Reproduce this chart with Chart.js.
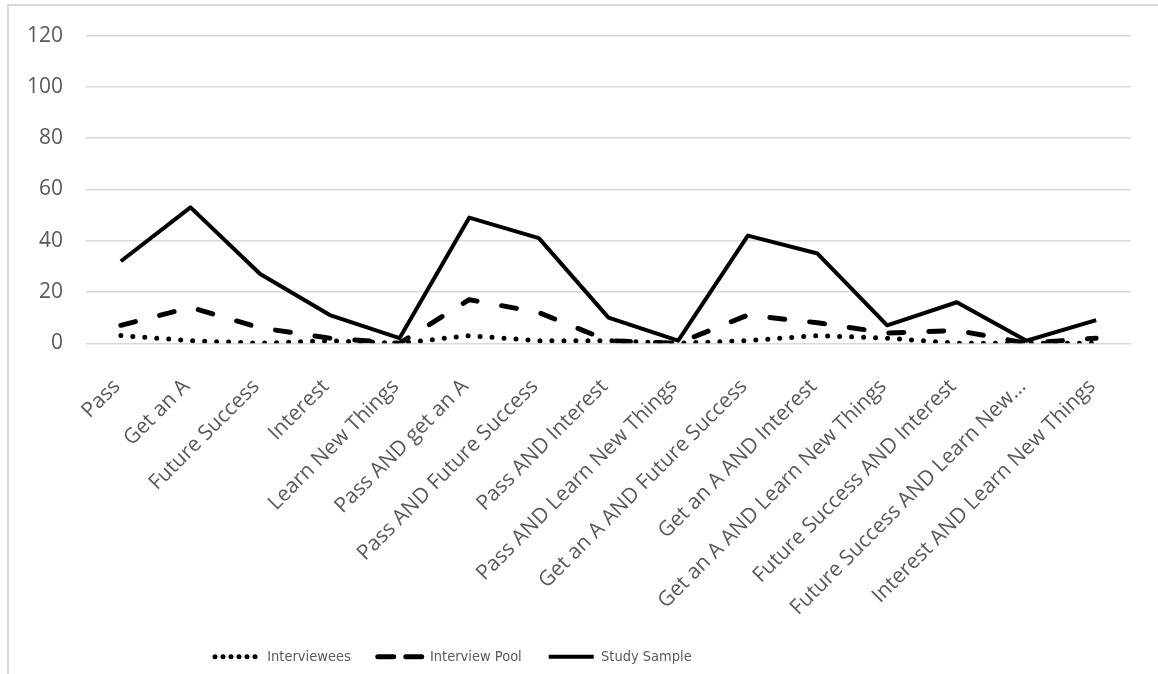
<!DOCTYPE html>
<html>
<head>
<meta charset="utf-8">
<script src="https://cdn.jsdelivr.net/npm/chart.js@4"></script>
<style>
  html, body { margin: 0; padding: 0; background: #ffffff; }
  #frame {
    position: absolute; left: 7px; top: 4px; right: -10px; bottom: -10px;
    border-top: 2px solid #d9d9d9; border-left: 2px solid #d9d9d9;
  }
  #wrap { position: absolute; left: 0; top: 0; width: 1158px; height: 674px; }
</style>
</head>
<body>
<div id="frame"></div>
<div id="wrap"><canvas id="chart" width="1158" height="674"></canvas></div>
<script>
// Categories of stated course goals
const categories = [
  'Pass', 'Get an A', 'Future Success', 'Interest', 'Learn New Things',
  'Pass AND get an A', 'Pass AND Future Success', 'Pass AND Interest',
  'Pass AND Learn New Things', 'Get an A AND Future Success',
  'Get an A AND Interest', 'Get an A AND Learn New Things',
  'Future Success AND Interest', 'Future Success AND Learn New Things',
  'Interest AND Learn New Things'
];

// Counts per group
const interviewees  = [3, 1, 0, 1, 0, 3, 1, 1, 0, 1, 3, 2, 0, 0, 0];
const interviewPool = [7, 14, 6, 2, 0, 17, 12, 1, 0, 11, 8, 4, 5, 0, 2];
const studySample   = [32, 53, 27, 11, 2, 49, 41, 10, 1, 42, 35, 7, 16, 1, 9];

// Y axis ticks
const yTicks = [0, 20, 40, 60, 80, 100, 120];

const textColor = '#595959';
const gridColor = '#d9d9d9';
const labelFont = { family: '"Open Sans", sans-serif', size: 21 };

// Long category names are cut short with an ellipsis
function shortLabel(s) {
  return s.length > 30 ? s.slice(0, 28).trimEnd() + '\u2026' : s;
}

// Moves the legend row to its own left offset
const legendOffset = {
  id: 'legendOffset',
  afterLayout(chart) {
    const lg = chart.legend;
    if (!lg) return;
    const w = lg.right - lg.left;
    lg.left = 188;
    lg.right = lg.left + w;
  }
};

new Chart(document.getElementById('chart'), {
  type: 'line',
  data: {
    labels: categories,
    datasets: [
      {
        label: 'Interviewees',
        data: interviewees,
        borderColor: '#000000',
        backgroundColor: '#000000',
        borderWidth: 5,
        borderDash: [0, 12],
        borderCapStyle: 'round',
        borderJoinStyle: 'round',
        pointRadius: 0,
        tension: 0
      },
      {
        label: 'Interview Pool',
        data: interviewPool,
        borderColor: '#000000',
        backgroundColor: '#000000',
        borderWidth: 5,
        borderDash: [15, 25],
        borderCapStyle: 'round',
        borderJoinStyle: 'round',
        pointRadius: 0,
        tension: 0
      },
      {
        label: 'Study Sample',
        data: studySample,
        borderColor: '#000000',
        backgroundColor: '#000000',
        borderWidth: 4,
        borderCapStyle: 'butt',
        borderJoinStyle: 'round',
        pointRadius: 0,
        tension: 0
      }
    ]
  },
  options: {
    responsive: false,
    animation: false,
    layout: { autoPadding: false, padding: { top: 34, left: 4, right: 27, bottom: 0 } },
    plugins: {
      tooltip: { enabled: false },
      legend: {
        position: 'bottom',
        align: 'start',
        labels: {
          color: textColor,
          font: { family: '"Liberation Sans Narrow", "DejaVu Sans Condensed", sans-serif', size: 14.5 },
          usePointStyle: true,
          pointStyle: 'line',
          pointStyleWidth: 45,
          boxHeight: 15,
          padding: 27,
          generateLabels(chart) {
            const items = Chart.defaults.plugins.legend.labels.generateLabels(chart);
            const dashes = [[0, 8], [16, 12], []];
            items.forEach((it, i) => {
              it.pointStyle = 'line';
              it.lineDash = dashes[i];
              it.lineCap = i === 2 ? 'butt' : 'round';
            });
            return items;
          }
        }
      }
    },
    scales: {
      x: {
        offset: true,
        grid: { display: false, drawTicks: false },
        border: { display: false },
        ticks: {
          color: textColor,
          font: labelFont,
          autoSkip: false,
          minRotation: 45,
          maxRotation: 45,
          padding: 31,
          labelOffset: -4,
          callback(value) { return shortLabel(this.getLabelForValue(value)); }
        },
        afterFit(scale) { scale.height -= 29; }
      },
      y: {
        min: 0,
        max: 120,
        afterBuildTicks(scale) { scale.ticks = yTicks.map(v => ({ value: v })); },
        grid: { color: gridColor, lineWidth: 1.5, drawTicks: false },
        border: { display: false },
        ticks: { color: textColor, font: labelFont, padding: 23 }
      }
    }
  },
  plugins: [legendOffset]
});
</script>
</body>
</html>
